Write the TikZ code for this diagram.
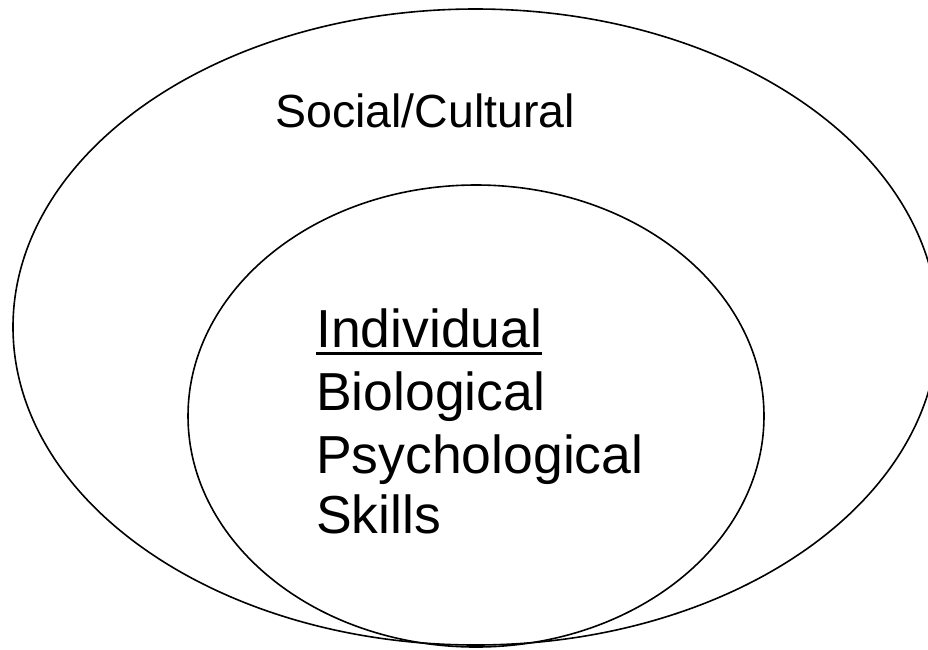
\documentclass[tikz,border=0pt]{standalone}
\usepackage{fontspec}
\setmainfont{Liberation Sans}
\begin{document}
\begin{tikzpicture}[x=1pt,y=-1pt,
  ring/.style={draw=black,line width=1.6pt},
  outerlabel/.style={anchor=base west,inner sep=0pt,font=\fontsize{46.5}{56}\selectfont},
  innerlabel/.style={anchor=base west,inner sep=0pt,font=\fontsize{53.5}{62}\selectfont}]
  \useasboundingbox (0,0) rectangle (928,649);
  \clip (0,0) rectangle (928,649);
  % outer ring: social / cultural context
  \draw[ring] (475.5,327) ellipse [x radius=462.5, y radius=318];
  % inner ring: the individual
  \draw[ring] (476,416) ellipse [x radius=288, y radius=231];
  \node[outerlabel] (social) at (275,127) {Social/Cultural};
  \node[innerlabel] (ind) at (316,347) {Individual};
  \node[innerlabel] (bio) at (316,410) {Biological};
  \node[innerlabel] (psy) at (316,473) {Psychological};
  \node[innerlabel] (skl) at (316,533) {Skills};
  % underline of the heading word
  \draw[line width=3pt] ([yshift=-6pt]ind.base west) -- ([yshift=-6pt]ind.base east);
\end{tikzpicture}
\end{document}
